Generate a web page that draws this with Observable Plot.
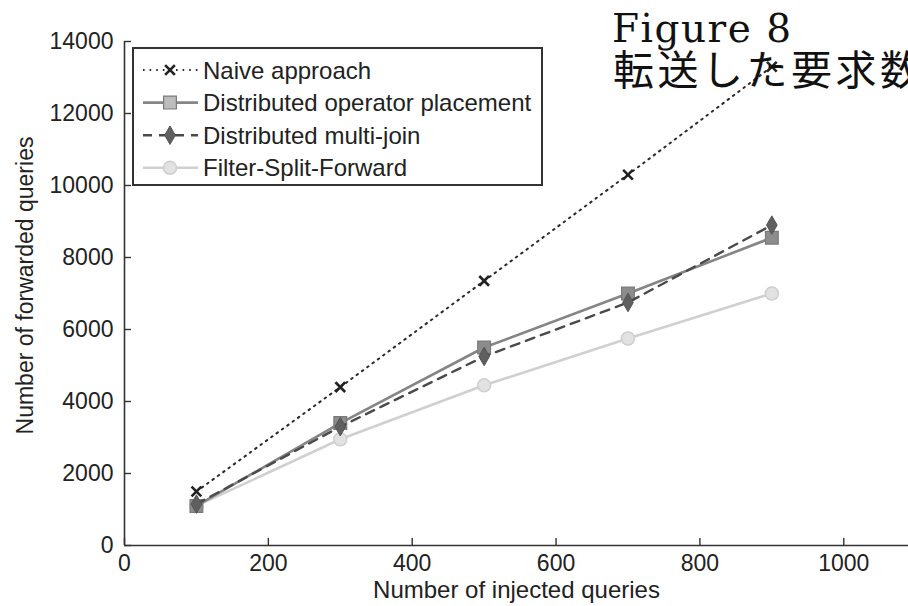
<!DOCTYPE html>
<html>
<head>
<meta charset="utf-8">
<script src="https://cdn.jsdelivr.net/npm/d3@7"></script>
<script src="https://cdn.jsdelivr.net/npm/@observablehq/plot@0.6"></script>
<style>
  html, body { margin: 0; padding: 0; background: #fff; overflow: hidden; }
  #wrap { position: relative; width: 908px; height: 606px; }
  #wrap > svg { position: absolute; left: 0; top: 0; }
</style>
</head>
<body>
<div id="wrap"></div>
<script>
// Number of injected queries (x) and forwarded queries (y) for each approach
const injected = [100, 300, 500, 700, 900];
const naive = [1500, 4400, 7350, 10300, 13300];
const distributedPlacement = [1100, 3400, 5500, 7000, 8550];
const multiJoin = [1150, 3300, 5250, 6750, 8900];
const filterSplitForward = [1100, 2950, 4450, 5750, 7000];

const seriesNames = [
  "Naive approach",
  "Distributed operator placement",
  "Distributed multi-join",
  "Filter-Split-Forward"
];
const xTicks = [0, 200, 400, 600, 800, 1000];
const yTicks = [0, 2000, 4000, 6000, 8000, 10000, 12000, 14000];

const titleText = "Figure 8";
const subtitleText = "転送した要求数";
const xLabel = "Number of injected queries";
const yLabel = "Number of forwarded queries";

// visual style per series
const styles = {
  "Naive approach": {stroke: "#2a2a2a", width: 2, dash: "1.6,5", symbol: "times", r: 4.5, fill: "none", mstroke: "#222", mwidth: 2.6},
  "Distributed operator placement": {stroke: "#858585", width: 2.6, dash: null, symbol: "square", r: 7.2, fill: "#8c8c8c", mstroke: "#7a7a7a", mwidth: 1.2},
  "Distributed multi-join": {stroke: "#4a4a4a", width: 2.4, dash: "9,7", symbol: "diamond", r: 5.6, fill: "#5f5f5f", mstroke: "#555", mwidth: 1},
  "Filter-Split-Forward": {stroke: "#d0d0d0", width: 2.6, dash: null, symbol: "circle", r: 6.5, fill: "#e2e2e2", mstroke: "#cfcfcf", mwidth: 1.5}
};

const valuesBySeries = [naive, distributedPlacement, multiJoin, filterSplitForward];
const rows = seriesNames.flatMap((name, k) =>
  injected.map((x, i) => ({series: name, x, y: valuesBySeries[k][i]}))
);

const drawOrder = ["Filter-Split-Forward", "Distributed operator placement", "Distributed multi-join", "Naive approach"];

const seriesMarks = drawOrder.flatMap((name) => {
  const s = styles[name];
  const data = rows.filter((d) => d.series === name);
  return [
    Plot.line(data, {x: "x", y: "y", stroke: s.stroke, strokeWidth: s.width, strokeDasharray: s.dash ?? undefined}),
    Plot.dot(data, {x: "x", y: "y", symbol: () => s.symbol, r: s.r, fill: s.fill, stroke: s.mstroke, strokeWidth: s.mwidth})
  ];
});

const font = "'Liberation Sans', Arial, Helvetica, sans-serif";
const W = 908, H = 606, ML = 124, MR = 0, MT = 41, MB = 61;
const tickLen = 7;

const chart = Plot.plot({
  width: W,
  height: H,
  marginLeft: ML,
  marginRight: MR,
  marginTop: MT,
  marginBottom: MB,
  style: {fontFamily: font, fontSize: "23px", color: "#222", background: "transparent"},
  x: {domain: [0, 1090]},
  y: {domain: [0, 14000]},
  marks: [
    // labels only; the tick marks point inward and are drawn below
    Plot.axisX(xTicks, {tickSize: 0, tickPadding: 9, label: null, fontSize: 23, tickFormat: (d) => String(d)}),
    Plot.axisY(yTicks, {tickSize: 0, tickPadding: 11, label: null, fontSize: 23, tickFormat: (d) => String(d)}),
    Plot.tickX(xTicks, {x: (d) => d, insetTop: H - MT - MB - tickLen, stroke: "#333", strokeWidth: 1.4}),
    Plot.tickY(yTicks, {y: (d) => d, insetRight: W - ML - MR - tickLen, stroke: "#333", strokeWidth: 1.4}),
    Plot.ruleY([0], {stroke: "#333", strokeWidth: 1.6}),
    Plot.ruleX([0], {stroke: "#333", strokeWidth: 1.6}),
    ...seriesMarks,
    Plot.text([xLabel], {text: (d) => d, frameAnchor: "bottom", lineAnchor: "middle", dy: 45, fontSize: 24, fill: "#222"}),
    Plot.text([yLabel], {text: (d) => d, frameAnchor: "left", textAnchor: "middle", lineAnchor: "middle", rotate: -90, dx: -99, dy: -8, fontSize: 23, fill: "#222"})
  ]
});

const wrap = document.getElementById("wrap");
wrap.appendChild(chart);

// legend box and heading drawn on top of the plot
const overlay = d3.create("svg")
  .attr("width", W).attr("height", H)
  .style("position", "absolute").style("left", 0).style("top", 0);

const box = {x: 133, y: 48, w: 409, h: 137};
overlay.append("rect")
  .attr("x", box.x).attr("y", box.y).attr("width", box.w).attr("height", box.h)
  .attr("fill", "#fff").attr("stroke", "#333").attr("stroke-width", 2);

const symbolType = {times: d3.symbolTimes, square: d3.symbolSquare, diamond: d3.symbolDiamond, circle: d3.symbolCircle};
seriesNames.forEach((name, i) => {
  const s = styles[name];
  const cy = 70 + i * 32.6;
  const g = overlay.append("g");
  g.append("line")
    .attr("x1", 143).attr("x2", 198).attr("y1", cy).attr("y2", cy)
    .attr("stroke", s.stroke).attr("stroke-width", s.width)
    .attr("stroke-dasharray", s.dash ?? null);
  g.append("path")
    .attr("transform", `translate(170,${cy})`)
    .attr("d", d3.symbol(symbolType[s.symbol], Math.PI * s.r * s.r)())
    .attr("fill", s.symbol === "square" ? "#bdbdbd" : s.fill)
    .attr("stroke", s.mstroke).attr("stroke-width", s.mwidth);
  g.append("text")
    .attr("x", 203).attr("y", cy).attr("dy", "0.36em")
    .attr("font-family", font).attr("font-size", 24).attr("fill", "#222")
    .text(name);
});

overlay.append("text")
  .attr("x", 612).attr("y", 42)
  .attr("font-family", "'DejaVu Serif', serif").attr("font-size", 39)
  .attr("letter-spacing", "1.5px").attr("fill", "#111")
  .text(titleText);
overlay.append("text")
  .attr("x", 613).attr("y", 85)
  .attr("font-family", "'Noto Sans CJK JP', sans-serif").attr("font-size", 41)
  .attr("letter-spacing", "3.5px").attr("fill", "#111")
  .text(subtitleText);

wrap.appendChild(overlay.node());
</script>
</body>
</html>
